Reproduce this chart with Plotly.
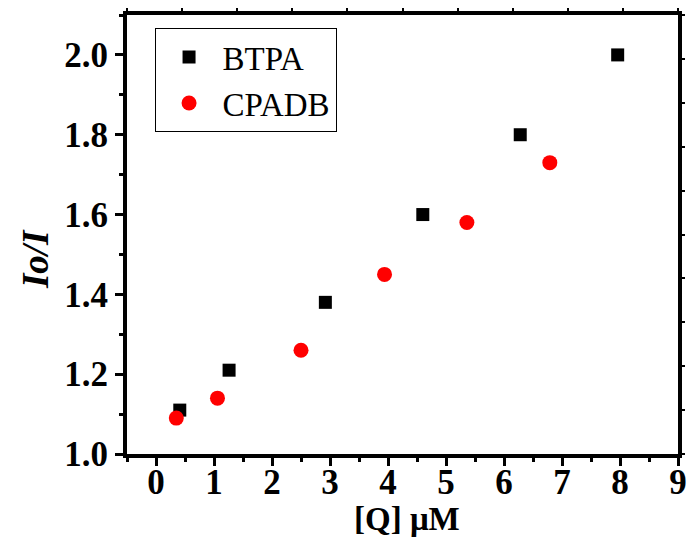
import plotly.graph_objects as go

# Stern-Volmer quenching data
q_btpa = [0.41, 1.26, 2.92, 4.60, 6.28, 7.96]
io_btpa = [1.11, 1.21, 1.38, 1.60, 1.80, 2.00]

q_cpadb = [0.35, 1.06, 2.50, 3.94, 5.36, 6.79]
io_cpadb = [1.09, 1.14, 1.26, 1.45, 1.58, 1.73]

x_ticks = [0, 1, 2, 3, 4, 5, 6, 7, 8, 9]
y_ticks = [1.0, 1.2, 1.4, 1.6, 1.8, 2.0]

FONT = "Liberation Serif"

fig = go.Figure()
fig.add_trace(go.Scatter(
    x=q_btpa, y=io_btpa, mode="markers", name="BTPA",
    marker=dict(symbol="square", size=13, color="black"),
))
fig.add_trace(go.Scatter(
    x=q_cpadb, y=io_cpadb, mode="markers", name="CPADB",
    marker=dict(symbol="circle", size=15, color="red"),
))
# empty trace so the top/right frame axes get drawn
fig.add_trace(go.Scatter(x=[], y=[], xaxis="x2", yaxis="y2",
                         showlegend=False, hoverinfo="skip"))

tick_font = dict(family=FONT, size=35, color="black", weight="bold")

fig.update_layout(
    width=699, height=539,
    margin=dict(l=127, r=13, t=14, b=85),
    paper_bgcolor="white", plot_bgcolor="white",
    showlegend=True,
    legend=dict(
        x=0.05, y=0.97, xanchor="left", yanchor="top",
        bordercolor="black", borderwidth=1, bgcolor="white",
        font=dict(family=FONT, size=33, color="black"),
        itemwidth=57, tracegroupgap=0,
    ),
    xaxis=dict(
        range=[-0.5, 9], tickvals=x_ticks, ticktext=[str(v) for v in x_ticks],
        showgrid=False, zeroline=False,
        showline=True, linecolor="black", linewidth=4,
        ticks="outside", ticklen=8, tickwidth=3, tickcolor="black",
        minor=dict(ticks="outside", ticklen=4, tickwidth=3, tickcolor="black",
                   dtick=0.5, tick0=0, showgrid=False),
        tickfont=tick_font, ticklabelstandoff=-14,
    ),
    yaxis=dict(
        range=[1.0, 2.1], tickvals=y_ticks, ticktext=[f"{v:.1f}" for v in y_ticks],
        showgrid=False, zeroline=False,
        showline=True, linecolor="black", linewidth=4,
        ticks="outside", ticklen=8, tickwidth=3, tickcolor="black",
        minor=dict(ticks="outside", ticklen=4, tickwidth=3, tickcolor="black",
                   dtick=0.1, tick0=1.0, showgrid=False),
        tickfont=tick_font,
    ),
    xaxis2=dict(
        overlaying="x", side="top", range=[0, 10], dtick=1,
        showgrid=False, zeroline=False, showticklabels=False,
        showline=True, linecolor="black", linewidth=4,
        ticks="outside", ticklen=3, tickwidth=2, tickcolor="black",
    ),
    yaxis2=dict(
        overlaying="y", side="right", range=[0, 10], dtick=1,
        showgrid=False, zeroline=False, showticklabels=False,
        showline=True, linecolor="black", linewidth=4,
        ticks="outside", ticklen=3, tickwidth=2, tickcolor="black",
    ),
    annotations=[
        dict(text="<b>[Q] μM</b>", xref="paper", yref="paper",
             x=0.508, y=-0.148, xanchor="center", yanchor="middle",
             showarrow=False, font=dict(family=FONT, size=33, color="black")),
        dict(text="<b><i>Io/I</i></b>", xref="paper", yref="paper",
             x=-0.166, y=0.443, xanchor="center", yanchor="middle",
             textangle=-90, showarrow=False,
             font=dict(family=FONT, size=37, color="black")),
    ],
)

fig.write_html("out.html")
